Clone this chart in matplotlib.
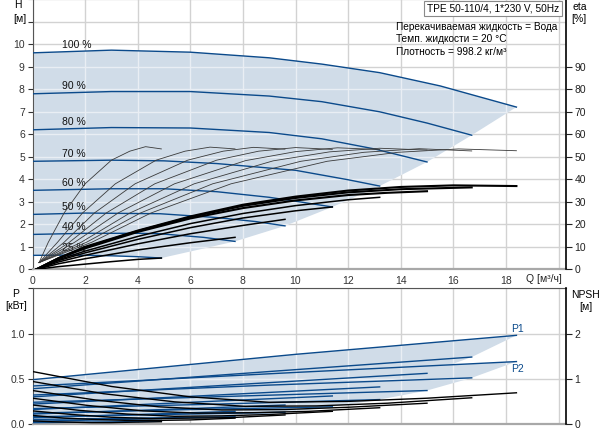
import matplotlib
matplotlib.use("Agg")
import matplotlib.pyplot as plt
from matplotlib.patches import Polygon

plt.rcParams['font.family'] = ['Liberation Sans', 'DejaVu Sans']

# --- данные ---
speeds = ["100 %", "90 %", "80 %", "70 %", "60 %", "50 %", "40 %", "25 %"]

# кривые H(Q) для каждой скорости
h_q = [[0, 3, 6, 9, 11, 13.2, 15.5, 18.4],
       [0, 3, 6, 9, 11, 13.2, 15, 16.7],
       [0, 3, 6, 9, 11, 13, 15.0],
       [0, 3, 5, 7, 10, 12, 13.2],
       [0, 3, 5, 7, 9, 10.15, 11.4],
       [0, 2, 4.85, 7, 8.5, 9.6],
       [0, 2, 4, 4.85, 6.5, 7.7],
       [0, 1.5, 3, 4, 4.9]]
h_v = [[9.62, 9.74, 9.65, 9.4, 9.12, 8.74, 8.15, 7.21],
       [7.8, 7.9, 7.9, 7.7, 7.45, 7.0, 6.5, 5.96],
       [6.2, 6.3, 6.28, 6.08, 5.8, 5.35, 4.77],
       [4.8, 4.85, 4.82, 4.7, 4.4, 3.98, 3.7],
       [3.51, 3.58, 3.58, 3.45, 3.2, 3.0, 2.77],
       [2.44, 2.5, 2.47, 2.3, 2.12, 1.93],
       [1.55, 1.6, 1.6, 1.58, 1.42, 1.24],
       [0.62, 0.63, 0.6, 0.56, 0.5]]

# КПД насоса (тонкие линии), %
eta_q = [[0.25, 2.25, 4.5, 7.55, 11.2, 13.9, 16.2, 18.4],
         [0.25, 2.05, 4.1, 6.85, 10.2, 12.6, 14.7, 16.7],
         [0.25, 1.85, 3.7, 6.15, 9.15, 11.3, 13.2, 15.0],
         [0.25, 1.6, 3.25, 5.4, 8.1, 10.0, 11.6, 13.2],
         [0.25, 1.4, 2.8, 4.65, 7.0, 8.6, 10.0, 11.4],
         [0.25, 1.2, 2.35, 3.9, 5.9, 7.25, 8.4, 9.6],
         [0.25, 0.95, 1.9, 3.15, 4.7, 5.8, 6.75, 7.7],
         [0.25, 0.6, 1.2, 2.0, 3.0, 3.7, 4.3, 4.9]]
eta_v = [[3, 12, 25, 38, 48, 52, 53.5, 52.7],
         [3, 12, 25, 38, 48, 52, 53.6, 52.6],
         [3, 12, 25, 38, 48.2, 52.2, 53.8, 53],
         [3, 12, 25, 38, 48.3, 52.3, 54, 53.2],
         [3, 12, 25, 38, 48.5, 52.5, 54.1, 53.3],
         [3, 12, 25, 38, 48.5, 52.5, 54.2, 53.4],
         [3, 12, 25, 38, 48.5, 52.5, 54.3, 53.5],
         [3, 12, 25, 38, 48.5, 52.5, 54.5, 53.5]]

# общий КПД (жирные чёрные линии), %
etat_q = [[0.15, 1, 2, 4, 6, 8, 10, 12, 14, 16, 18.4],
          [0.15, 1, 2, 4, 6, 8, 10, 12, 14, 16.7],
          [0.15, 1, 2, 4, 6, 8, 10, 12, 13.5, 15.0],
          [0.15, 1, 2, 4, 6, 8, 10, 12, 13.2],
          [0.15, 1, 2, 4, 6, 8, 10, 11.4],
          [0.15, 1, 2, 4, 6, 8, 9.6],
          [0.15, 1, 2, 4, 6, 7.7],
          [0.15, 1, 2, 3, 4, 4.9]]
etat_v = [[0, 5, 10, 17.2, 23.5, 28.7, 32.3, 35, 36.6, 37.3, 37],
          [0, 5, 9.7, 17, 23.2, 28.2, 31.7, 34.2, 35.6, 36.4],
          [0, 4.9, 9.3, 16.6, 22.6, 27.2, 30.6, 33, 34, 34.7],
          [0, 4.3, 8.1, 14.6, 20.3, 24.8, 28.3, 30.9, 32],
          [0, 3.9, 7.3, 13.3, 18.5, 22.8, 26.0, 27.7],
          [0, 3.3, 6.2, 11.3, 15.8, 19.5, 22.2],
          [0, 2.5, 4.7, 8.6, 11.8, 14.2],
          [0, 1.2, 2.3, 3.4, 4.4, 5.0]]

# мощность P1 / P2, кВт
p_q = [[0, 10, 18.4], [0, 9, 16.7], [0, 8, 15.0], [0, 7, 13.2],
       [0, 6, 11.4], [0, 5, 9.6], [0, 4, 7.7], [0, 2.5, 4.9]]
p1_v = [[0.49, 0.77, 0.98], [0.39, 0.58, 0.74], [0.30, 0.44, 0.56],
        [0.22, 0.32, 0.41], [0.16, 0.24, 0.31], [0.11, 0.16, 0.21],
        [0.07, 0.105, 0.14], [0.03, 0.045, 0.06]]
p2_v = [[0.42, 0.57, 0.69], [0.32, 0.43, 0.51], [0.24, 0.31, 0.37],
        [0.17, 0.22, 0.27], [0.12, 0.16, 0.19], [0.08, 0.105, 0.13],
        [0.05, 0.065, 0.08], [0.015, 0.022, 0.03]]

# NPSH, м
npsh_q = [[0, 3, 6, 9, 12, 15, 18.4],
          [0, 2.7, 5.4, 8.1, 10.8, 13.5, 16.7],
          [0, 2.4, 4.8, 7.2, 9.6, 12, 15.0],
          [0, 2.1, 4.2, 6.3, 8.4, 10.5, 13.2],
          [0, 1.8, 3.6, 5.4, 7.2, 9, 11.4],
          [0, 1.5, 3, 4.5, 6, 7.5, 9.6],
          [0, 1.2, 2.4, 3.6, 4.8, 6, 7.7],
          [0, 0.75, 1.5, 2.25, 3, 3.75, 4.9]]
npsh_v = [[1.16, 0.83, 0.60, 0.48, 0.50, 0.57, 0.69],
          [0.94, 0.67, 0.49, 0.39, 0.40, 0.46, 0.58],
          [0.74, 0.53, 0.38, 0.31, 0.32, 0.37, 0.46],
          [0.57, 0.41, 0.29, 0.24, 0.25, 0.28, 0.36],
          [0.42, 0.30, 0.22, 0.17, 0.18, 0.21, 0.28],
          [0.29, 0.21, 0.15, 0.12, 0.13, 0.14, 0.20],
          [0.19, 0.13, 0.10, 0.08, 0.08, 0.09, 0.13],
          [0.07, 0.05, 0.04, 0.03, 0.03, 0.04, 0.05]]

info_lines = ["Перекачиваемая жидкость = Вода",
              "Темп. жидкости = 20 °C",
              "Плотность = 998.2 кг/м³"]
title_box = "TPE 50-110/4, 1*230 V, 50Hz"

# --- оформление ---
W, HP = 606, 432
BLUE = "#0b4a8b"
FILL = "#d0dce8"
GRID = "#d2d2d2"
GRID_IN = "#e9eef4"
FS = 7.5
FS_TXT = 7.3


def fx(px):
    return px / W


def fy(py):
    return 1 - py / HP


fig = plt.figure(figsize=(W / 100, HP / 100), dpi=100)
x0, x1 = 32.5, 566
xmax = (x1 - x0) / 26.3

ax = fig.add_axes([fx(x0), fy(269.3), (x1 - x0) / W, 270 / HP])
ax2 = fig.add_axes([fx(x0), fy(424), (x1 - x0) / W, (424 - 288.3) / HP])


def style(a, ylim, yticks, ylabels):
    a.set_xlim(0, xmax)
    a.set_ylim(*ylim)
    a.set_xticks(range(0, 21, 2))
    a.set_yticks(yticks)
    a.set_yticklabels(ylabels)
    a.grid(True, color=GRID, lw=1.0, zorder=0)
    a.set_axisbelow(True)
    a.tick_params(axis="y", direction="out", length=3.5, width=0.8,
                  colors="#333333", labelsize=FS, pad=2)
    a.tick_params(axis="x", length=0, labelsize=FS, pad=4.5, colors="#333333")
    a.spines["left"].set_color("#555555")
    a.spines["left"].set_linewidth(0.8)
    a.spines["bottom"].set_color("#a8a8a8")
    a.spines["bottom"].set_linewidth(1.6)
    a.spines["right"].set_visible(False)


def inner_grid(a, patch, yticks):
    for q in range(0, 21, 2):
        ln = a.axvline(q, color=GRID_IN, lw=1.0, zorder=1.5)
        ln.set_clip_path(patch)
    for y in yticks:
        ln = a.axhline(y, color=GRID_IN, lw=1.0, zorder=1.5)
        ln.set_clip_path(patch)


# ---------- верхний график H/eta ----------
style(ax, (0, 12), range(0, 13),
      [str(v) if v <= 10 else "" for v in range(0, 13)])
ax.spines["top"].set_visible(False)
ax.set_xticklabels([str(q) if q < 20 else "" for q in range(0, 21, 2)])

ends_q = [q[-1] for q in h_q]
ends_h = [h[-1] for h in h_v]
poly = list(zip(h_q[0], h_v[0])) + list(zip(ends_q[1:], ends_h[1:]))
poly += list(zip(h_q[-1][::-1], h_v[-1][::-1]))[1:]
patch = Polygon(poly, closed=True, facecolor=FILL, edgecolor="none", zorder=1)
ax.add_patch(patch)
inner_grid(ax, patch, range(0, 13))

for name, q, h in zip(speeds, h_q, h_v):
    ax.plot(q, h, color=BLUE, lw=1.0, zorder=3)
    ax.text(1.14, h[0] + 0.33, name, fontsize=FS, va="center", ha="left",
            color="#111111", zorder=4)

ax_eta = ax.twinx()
ax_eta.set_ylim(0, 120)
ax_eta.set_yticks(range(0, 100, 10))
ax_eta.tick_params(axis="y", direction="out", length=4, width=0.8,
                   colors="#222222", labelsize=FS, pad=2)
for s in ["left", "top", "bottom"]:
    ax_eta.spines[s].set_visible(False)
ax_eta.spines["right"].set_color("black")
ax_eta.spines["right"].set_linewidth(1.2)

for q, e in zip(eta_q, eta_v):
    ax_eta.plot(q, e, color="#3a3a3a", lw=0.6, zorder=3)
for i, (q, e) in enumerate(zip(etat_q, etat_v)):
    ax_eta.plot(q, e, color="black", lw=1.5 if i < 3 else 1.1, zorder=4)

fig.text(fx(562), fy(279.5), "Q [м³/ч]", fontsize=FS, ha="right",
         va="center", color="#222222")

# ---------- нижний график P/NPSH ----------
style(ax2, (0, 1.5), [0, 0.5, 1.0, 1.5], ["0.0", "0.5", "1.0", ""])
ax2.spines["top"].set_color("#555555")
ax2.spines["top"].set_linewidth(0.8)
ax2.set_xticklabels([])

for vals in (p1_v, p2_v):
    pe_q = [q[-1] for q in p_q]
    pe_v = [v[-1] for v in vals]
    pp = list(zip(p_q[0], vals[0])) + list(zip(pe_q[1:], pe_v[1:]))
    pp += list(zip(p_q[-1][::-1], vals[-1][::-1]))[1:]
    pt = Polygon(pp, closed=True, facecolor=FILL, edgecolor="none", zorder=1)
    ax2.add_patch(pt)
    inner_grid(ax2, pt, [0, 0.5, 1.0, 1.5])
    for q, v in zip(p_q, vals):
        ax2.plot(q, v, color=BLUE, lw=1.0, zorder=3)

ax2.text(18.2, p1_v[0][-1] + 0.02, "P1", color=BLUE, fontsize=FS,
         ha="left", va="bottom")
ax2.text(18.2, p2_v[0][-1] - 0.03, "P2", color=BLUE, fontsize=FS,
         ha="left", va="top")

ax_n = ax2.twinx()
ax_n.set_ylim(0, 3)
ax_n.set_yticks([0, 1, 2])
ax_n.tick_params(axis="y", direction="out", length=4, width=0.8,
                 colors="#222222", labelsize=FS, pad=2)
for s in ["left", "top", "bottom"]:
    ax_n.spines[s].set_visible(False)
ax_n.spines["right"].set_color("black")
ax_n.spines["right"].set_linewidth(1.2)
for q, n in zip(npsh_q, npsh_v):
    ax_n.plot(q, n, color="black", lw=1.0, zorder=4)

# ---------- подписи осей и тексты ----------
fig.text(fx(18), fy(5.5), "H", fontsize=FS, ha="center", va="center")
fig.text(fx(20), fy(19), "[м]", fontsize=FS, ha="center", va="center")
fig.text(fx(580), fy(7), "eta", fontsize=FS, ha="center", va="center")
fig.text(fx(579), fy(19), "[%]", fontsize=FS, ha="center", va="center")
fig.text(fx(16), fy(294), "P", fontsize=FS, ha="center", va="center")
fig.text(fx(16), fy(306), "[кВт]", fontsize=FS, ha="center", va="center")
fig.text(fx(585), fy(295), "NPSH", fontsize=FS, ha="center", va="center")
fig.text(fx(586), fy(307), "[м]", fontsize=FS, ha="center", va="center")

fig.text(fx(427), fy(8.5), title_box, fontsize=FS_TXT, ha="left",
         va="center",
         bbox=dict(boxstyle="square,pad=0.25", fc="white", ec="#8a8a8a",
                   lw=0.8))
for i, line in enumerate(info_lines):
    fig.text(fx(396), fy(26.7 + 12.5 * i), line, fontsize=FS_TXT,
             ha="left", va="center")

fig.savefig("out.png", dpi=100)
